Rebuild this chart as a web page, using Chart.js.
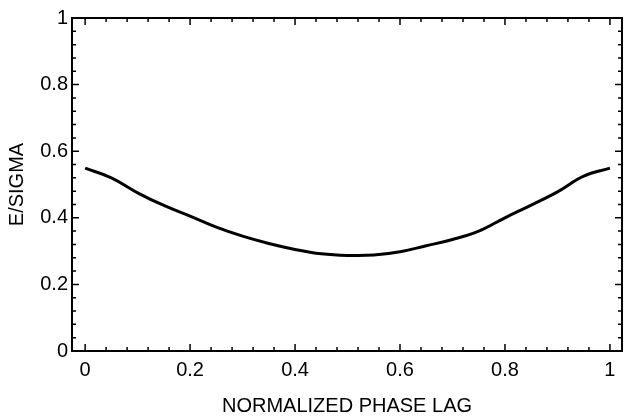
<!DOCTYPE html>
<html>
<head>
<meta charset="utf-8">
<script src="https://cdn.jsdelivr.net/npm/chart.js@4"></script>
<style>
  html, body { margin: 0; padding: 0; background: #fff; }
  #wrap { width: 625px; height: 418px; }
</style>
</head>
<body>
<div id="wrap"><canvas id="chart"></canvas></div>
<script>
// values
const phaseLag = [0, 0.05, 0.1, 0.15, 0.2, 0.25, 0.3, 0.35, 0.4, 0.45, 0.5,
                  0.55, 0.6, 0.65, 0.7, 0.75, 0.8, 0.85, 0.9, 0.95, 1];
const eSigma = [0.549, 0.52, 0.475, 0.437, 0.405, 0.372, 0.345, 0.323, 0.305, 0.292, 0.287,
                0.288, 0.298, 0.316, 0.335, 0.36, 0.4, 0.438, 0.478, 0.525, 0.549];
const xTicks = [0, 0.2, 0.4, 0.6, 0.8, 1];
const yTicks = [0, 0.2, 0.4, 0.6, 0.8, 1];

const FONT = "'Liberation Sans', Arial, Helvetica, sans-serif";

// frame + inward ticks like the original
const frameTicks = {
  id: 'frameTicks',
  afterDatasetsDraw(chart) {
    const ctx = chart.ctx;
    const a = chart.chartArea;
    const xs = chart.scales.x, ys = chart.scales.y;
    ctx.save();
    ctx.strokeStyle = '#000';
    ctx.lineWidth = 2;
    ctx.strokeRect(a.left, a.top, a.right - a.left, a.bottom - a.top);
    ctx.lineWidth = 1.5;
    ctx.beginPath();
    for (let i = 0; i <= 25; i++) {
      const v = i * 0.04;
      const major = xTicks.some(t => Math.abs(t - v) < 1e-6);
      const len = major ? 7 : 4;
      const px = xs.getPixelForValue(v);
      ctx.moveTo(px, a.bottom); ctx.lineTo(px, a.bottom - len);
      ctx.moveTo(px, a.top); ctx.lineTo(px, a.top + len);
      const py = ys.getPixelForValue(v);
      ctx.moveTo(a.left, py); ctx.lineTo(a.left + len, py);
      ctx.moveTo(a.right, py); ctx.lineTo(a.right - len, py);
    }
    ctx.stroke();
    ctx.restore();
  }
};

new Chart(document.getElementById('chart'), {
  type: 'line',
  data: {
    datasets: [{
      data: phaseLag.map((x, i) => ({ x: x, y: eSigma[i] })),
      borderColor: '#000',
      borderWidth: 3,
      pointRadius: 0,
      tension: 0.4,
      fill: false
    }]
  },
  options: {
    responsive: true,
    maintainAspectRatio: false,
    animation: false,
    layout: { padding: { top: 18, right: 3, left: 0, bottom: 0 } },
    plugins: { legend: { display: false }, tooltip: { enabled: false } },
    scales: {
      x: {
        type: 'linear',
        min: -0.025,
        max: 1.023,
        afterBuildTicks: s => { s.ticks = xTicks.map(v => ({ value: v })); },
        afterFit: s => { s.height = 67; },
        grid: { display: false, drawTicks: false },
        border: { display: false },
        ticks: {
          color: '#000',
          padding: 7,
          maxRotation: 0,
          font: { family: FONT, size: 20 },
          callback: v => String(v)
        },
        title: {
          display: true,
          text: 'NORMALIZED PHASE LAG',
          color: '#000',
          padding: { top: 0, bottom: 0 },
          font: { family: FONT, size: 20 }
        }
      },
      y: {
        min: 0,
        max: 1,
        afterBuildTicks: s => { s.ticks = yTicks.map(v => ({ value: v })); },
        afterFit: s => { s.width = 72; },
        grid: { display: false, drawTicks: false },
        border: { display: false },
        ticks: {
          color: '#000',
          padding: 4,
          font: { family: FONT, size: 20 },
          callback: v => String(v)
        },
        title: {
          display: true,
          text: 'E/SIGMA',
          color: '#000',
          padding: { top: 5, bottom: 0 },
          font: { family: FONT, size: 20 }
        }
      }
    }
  },
  plugins: [frameTicks]
});
</script>
</body>
</html>
